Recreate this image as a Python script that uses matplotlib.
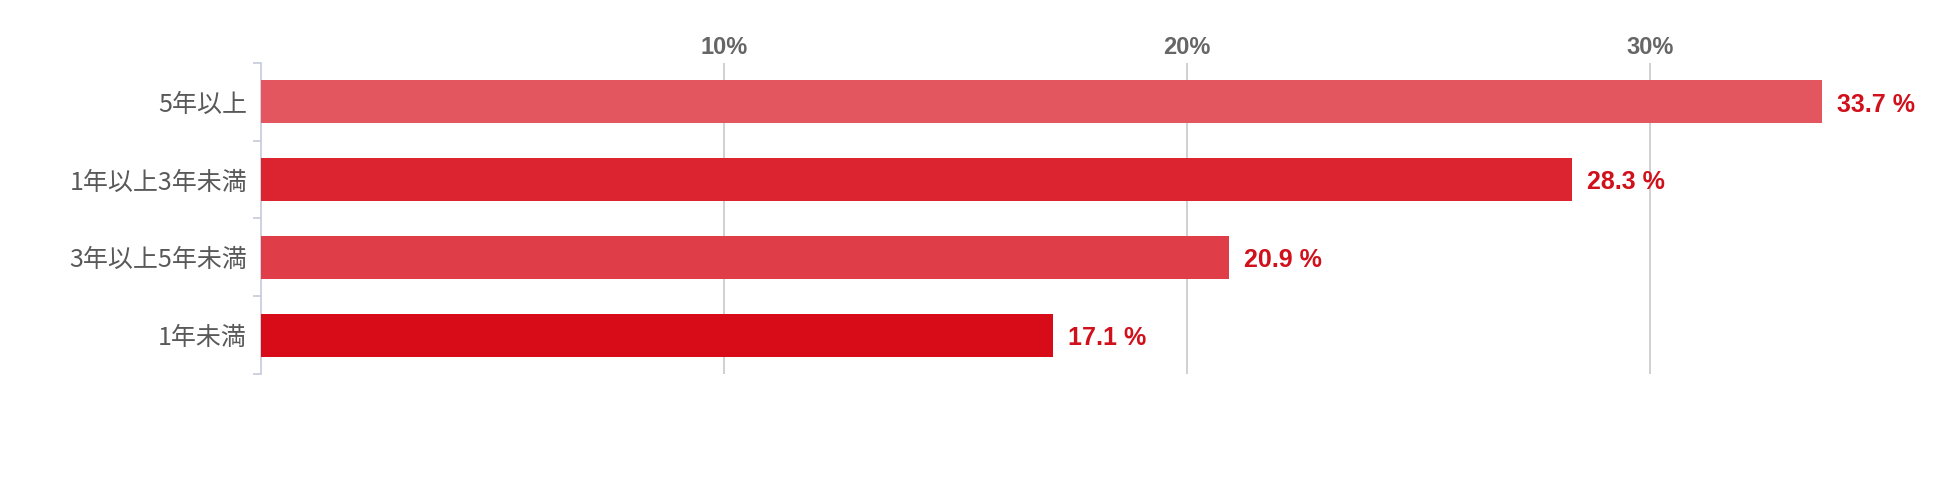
import matplotlib
matplotlib.use("Agg")
import matplotlib.pyplot as plt
from matplotlib.ticker import FixedLocator

# data (top to bottom)
categories = ['5年以上', '1年以上3年未満', '3年以上5年未満', '1年未満']
values = [33.7, 28.3, 20.9, 17.1]
bar_colors = ['#e35660', '#dc2330', '#df3d48', '#d80c19']
xticks = [10, 20, 30]
xtick_labels = ['10%', '20%', '30%']

plt.rcParams['font.family'] = ['Noto Sans CJK JP', 'DejaVu Sans']

fig = plt.figure(figsize=(19.5, 4.79), dpi=100)
ax = fig.add_axes([0.1338, 0.2192, 0.855, 0.6493])

y = list(range(len(categories)))
ax.barh(y, values, height=0.556, color=bar_colors, zorder=3)

# value labels
for yi, v in zip(y, values):
    ax.annotate(f'{v} %', xy=(v, yi), xytext=(11, -2), textcoords='offset points',
                va='center', ha='left', fontsize=18, fontweight='bold',
                color='#d0101a', family=['Liberation Sans', 'DejaVu Sans'])

ax.set_xlim(0, 36)
ax.set_ylim(3.5, -0.5)

# x axis on top, gridlines only
ax.xaxis.tick_top()
ax.set_xticks(xticks)
ax.set_xticklabels(xtick_labels, fontsize=17, fontweight='bold', color='#666666',
                   family=['Liberation Sans', 'DejaVu Sans'])
ax.tick_params(axis='x', length=0, pad=3)
ax.grid(axis='x', color='#c8c8c8', linewidth=1.2, zorder=0)

# y axis: labels at centers, ticks at boundaries
ax.set_yticks(y)
ax.set_yticklabels(categories, fontsize=18, color='#595959')
ax.yaxis.set_minor_locator(FixedLocator([-0.5, 0.5, 1.5, 2.5, 3.5]))
ax.tick_params(axis='y', which='major', length=0, pad=10)
ax.tick_params(axis='y', which='minor', length=6, width=1.2, color='#c3cbdb')

for s in ['top', 'right', 'bottom']:
    ax.spines[s].set_visible(False)
ax.spines['left'].set_color('#c3cbdb')
ax.spines['left'].set_linewidth(1.2)

fig.savefig('out.png', dpi=100, facecolor='white')
